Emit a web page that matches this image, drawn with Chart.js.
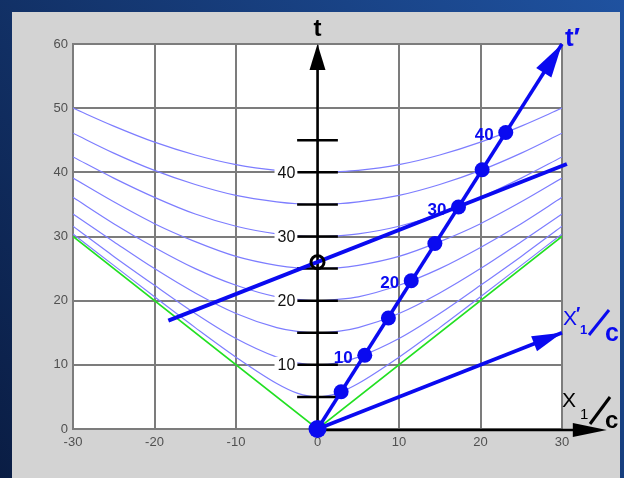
<!DOCTYPE html>
<html>
<head>
<meta charset="utf-8">
<script src="https://cdn.jsdelivr.net/npm/chart.js@4/dist/chart.umd.min.js"></script>
<style>
  html, body { margin:0; padding:0; background:#12316a; }
  #wrap { width:624px; height:478px; }
</style>
</head>
<body>
<div id="wrap"><canvas id="mink" width="624" height="478"></canvas></div>
<script>
const hypX = [0, 2.5, 5, 10, 15, 20, 25, 30];
// t values of each invariant hyperbola at those x (curves are symmetric)
const hyp5  = [5, 5.6, 7.1, 11.2, 15.8, 20.6, 25.5, 30.4];
const hyp10 = [10, 10.3, 11.2, 14.1, 18.0, 22.4, 26.9, 31.6];
const hyp15 = [15, 15.2, 15.8, 18.0, 21.2, 25.0, 29.2, 33.5];
const hyp20 = [20, 20.2, 20.6, 22.4, 25.0, 28.3, 32.0, 36.1];
const hyp25 = [25, 25.1, 25.5, 26.9, 29.2, 32.0, 35.4, 39.1];
const hyp30 = [30, 30.1, 30.4, 31.6, 33.5, 36.1, 39.1, 42.4];
const hyp35 = [35, 35.1, 35.4, 36.4, 38.1, 40.3, 43.0, 46.1];
const hyp40 = [40, 40.1, 40.3, 41.2, 42.7, 44.7, 47.2, 50.0];
const hyperbolas = [hyp5, hyp10, hyp15, hyp20, hyp25, hyp30, hyp35, hyp40];

// light cone t = |x|
const coneX = [-30, 0, 30];
const coneT = [30, 0, 30];

// moving clock world line (t' axis) and its proper-time marks
const markX = [0, 2.9, 5.8, 8.7, 11.5, 14.4, 17.3, 20.2, 23.1];
const markT = [0, 5.8, 11.5, 17.3, 23.1, 28.9, 34.6, 40.4, 46.2];
const markLabels = ['', '', '10', '', '20', '', '30', '', '40'];
const tPrimeX = [0, 30];
const tPrimeT = [0, 60];

// x' axis
const xPrimeX = [0, 30];
const xPrimeT = [0, 15];

// line of simultaneity through the t'=30 mark, and where it meets t axis
const simX = [-18.3, 30.6];
const simT = [16.9, 41.3];
const simCross = { x: 0, y: 26 };

// t-axis tick marks and labels
const tTicks = [5, 10, 15, 20, 25, 30, 35, 40, 45];
const tTickLabels = [10, 20, 30, 40];
const xAxisEnd = 35.5; // black x axis arrow runs past the frame

const BLUE = '#0a0af0';
const FONT = '"Liberation Sans", Arial, sans-serif';
const pts = (xs, ys) => xs.map((x, i) => ({ x, y: ys[i] }));

function hypPoints(vals){
  const left = hypX.slice().reverse().map((x, i) => ({ x: -x, y: vals[vals.length - 1 - i] }));
  const right = hypX.slice(1).map((x, i) => ({ x, y: vals[i + 1] }));
  return left.concat(right);
}

function arrow(ctx, x1, y1, x2, y2, len, half, color){
  const a = Math.atan2(y2 - y1, x2 - x1);
  ctx.save();
  ctx.fillStyle = color;
  ctx.beginPath();
  ctx.moveTo(x2, y2);
  ctx.lineTo(x2 - len*Math.cos(a) + half*Math.sin(a), y2 - len*Math.sin(a) - half*Math.cos(a));
  ctx.lineTo(x2 - len*Math.cos(a) - half*Math.sin(a), y2 - len*Math.sin(a) + half*Math.cos(a));
  ctx.closePath();
  ctx.fill();
  ctx.restore();
}

function slash(ctx, x1, y1, x2, y2, color, w){
  ctx.strokeStyle = color;
  ctx.lineWidth = w;
  ctx.lineCap = 'butt';
  ctx.beginPath();
  ctx.moveTo(x1, y1); ctx.lineTo(x2, y2);
  ctx.stroke();
}

const frame = {
  id: 'frame',
  beforeDraw(chart){
    const ctx = chart.ctx, w = chart.width, h = chart.height;
    const g = ctx.createLinearGradient(0, h, w, 0);
    g.addColorStop(0, '#0a1d44');
    g.addColorStop(1, '#1f52a0');
    ctx.save();
    ctx.fillStyle = g;
    ctx.fillRect(0, 0, w, h);
    ctx.fillStyle = '#d3d3d3';
    ctx.fillRect(12, 12, 608, h - 12);
    const a = chart.chartArea;
    ctx.fillStyle = '#ffffff';
    ctx.fillRect(a.left, a.top, a.right - a.left, a.bottom - a.top);
    ctx.restore();
  },
  // black t axis, ticks and labels go above the hyperbolas but under the blue marks
  afterDatasetDraw(chart, args){
    if (!args.meta._dataset.underlay) return;
    const ctx = chart.ctx, xs = chart.scales.x, ys = chart.scales.y;
    const x0 = xs.getPixelForValue(0), y0 = ys.getPixelForValue(0);
    ctx.save();
    ctx.strokeStyle = '#000';
    ctx.lineWidth = 2.5;
    ctx.beginPath();
    ctx.moveTo(x0, y0); ctx.lineTo(x0, ys.getPixelForValue(57));
    ctx.stroke();
    arrow(ctx, x0, y0, x0, ys.getPixelForValue(60), 26, 8, '#000');
    tTicks.forEach(t => {
      const y = ys.getPixelForValue(t);
      ctx.beginPath();
      ctx.moveTo(xs.getPixelForValue(-2.5), y);
      ctx.lineTo(xs.getPixelForValue(2.5), y);
      ctx.stroke();
    });
    ctx.font = '16px ' + FONT;
    ctx.textAlign = 'right';
    ctx.textBaseline = 'middle';
    tTickLabels.forEach(t => {
      const y = ys.getPixelForValue(t);
      const xr = xs.getPixelForValue(-2.6);
      const tw = ctx.measureText(String(t)).width;
      ctx.fillStyle = '#fff';
      ctx.fillRect(xr - tw - 4, y - 8, tw + 5, 16);
      ctx.fillStyle = '#111';
      ctx.fillText(String(t), xr - 1, y + 1);
    });
    // x axis arrow
    ctx.beginPath();
    ctx.moveTo(x0, y0 + 1); ctx.lineTo(xs.getPixelForValue(xAxisEnd - 3), y0 + 1);
    ctx.stroke();
    arrow(ctx, x0, y0 + 1, xs.getPixelForValue(xAxisEnd), y0 + 1, 34, 7, '#000');
    ctx.restore();
  },
  afterDraw(chart){
    const ctx = chart.ctx, xs = chart.scales.x, ys = chart.scales.y;
    const px = v => xs.getPixelForValue(v), py = v => ys.getPixelForValue(v);
    ctx.save();
    // arrowheads on the primed axes
    arrow(ctx, px(tPrimeX[0]), py(tPrimeT[0]), px(tPrimeX[1]), py(tPrimeT[1]), 34, 9, BLUE);
    arrow(ctx, px(xPrimeX[0]), py(xPrimeT[0]), px(xPrimeX[1]), py(xPrimeT[1]), 30, 8, BLUE);
    // hollow crossing mark
    ctx.strokeStyle = '#000';
    ctx.lineWidth = 3;
    ctx.beginPath();
    ctx.arc(px(simCross.x), py(simCross.y), 6.5, 0, Math.PI*2);
    ctx.stroke();
    // proper-time labels
    ctx.font = 'bold 17px ' + FONT;
    ctx.fillStyle = BLUE;
    ctx.textAlign = 'right';
    ctx.textBaseline = 'middle';
    markLabels.forEach((s, i) => {
      if (s) ctx.fillText(s, px(markX[i]) - 12, py(markT[i]) + 3);
    });
    // axis names
    ctx.textAlign = 'center';
    ctx.textBaseline = 'alphabetic';
    ctx.fillStyle = '#000';
    ctx.font = 'bold 24px ' + FONT;
    ctx.fillText('t', px(0), 36);
    ctx.fillStyle = BLUE;
    ctx.font = 'bold 26px ' + FONT;
    ctx.textAlign = 'left';
    ctx.fillText('t\u2032', 565, 46);
    // X'1/c
    ctx.font = '21px ' + FONT;
    ctx.fillText('X', 563, 325);
    ctx.font = 'bold 18px ' + FONT;
    ctx.fillText('\u2032', 576, 320);
    ctx.font = 'bold 13px ' + FONT;
    ctx.fillText('1', 580, 334);
    slash(ctx, 589, 335, 609, 310, BLUE, 3);
    ctx.font = 'bold 25px ' + FONT;
    ctx.fillText('c', 605, 341);
    // X1/c
    ctx.fillStyle = '#000';
    ctx.font = '21px ' + FONT;
    ctx.fillText('X', 562, 407);
    ctx.font = '15px ' + FONT;
    ctx.fillText('1', 580, 419);
    slash(ctx, 590, 424, 610, 397, '#000', 3);
    ctx.font = 'bold 24px ' + FONT;
    ctx.fillText('c', 605, 428);
    ctx.restore();
  }
};

const datasets = [];
hyperbolas.forEach((h, i) => datasets.push({
  label: 'hyp' + (i + 1) * 5, data: hypPoints(h), showLine: true,
  borderColor: '#7d7dff', borderWidth: 1.2, pointRadius: 0,
  tension: 0.4, cubicInterpolationMode: 'monotone', order: 10
}));
datasets.push({ label: 'cone', data: pts(coneX, coneT), showLine: true, underlay: true,
  borderColor: '#22e022', borderWidth: 1.6, pointRadius: 0, order: 9 });
datasets.push({ label: 'sim', data: pts(simX, simT), showLine: true, clip: false,
  borderColor: BLUE, borderWidth: 4, pointRadius: 0, order: 3 });
datasets.push({ label: 'xprime', data: pts(xPrimeX, xPrimeT), showLine: true, clip: false,
  borderColor: BLUE, borderWidth: 3.5, pointRadius: 0, order: 3 });
datasets.push({ label: 'tprime', data: pts(tPrimeX, tPrimeT), showLine: true, clip: false,
  borderColor: BLUE, borderWidth: 3.5, pointRadius: 0, order: 3 });
datasets.push({ label: 'marks', data: pts(markX, markT), showLine: false, clip: false,
  backgroundColor: BLUE, borderColor: BLUE, borderWidth: 0,
  pointRadius: markX.map((x, i) => i === 0 ? 9 : 7.5), order: 1 });

const tickFont = { family: '"Liberation Sans Narrow", "Liberation Sans", Arial, sans-serif', size: 13 };

new Chart(document.getElementById('mink'), {
  type: 'scatter',
  data: { datasets },
  options: {
    responsive: false,
    animation: false,
    events: [],
    layout: { padding: { left: 0, right: 62, top: 44, bottom: 0 } },
    plugins: { legend: { display: false }, tooltip: { enabled: false } },
    scales: {
      x: {
        type: 'linear', min: -30, max: 30,
        afterFit: s => { s.height = 49; },
        ticks: { stepSize: 10, color: '#505050', padding: 6, font: tickFont },
        grid: { color: '#7c7c7c', lineWidth: 2, drawTicks: false },
        border: { color: '#7c7c7c', width: 2 }
      },
      y: {
        type: 'linear', min: 0, max: 60,
        afterFit: s => { s.width = 73; },
        ticks: { stepSize: 10, color: '#505050', padding: 5, font: tickFont },
        grid: { color: '#7c7c7c', lineWidth: 2, drawTicks: false },
        border: { color: '#7c7c7c', width: 2 }
      }
    }
  },
  plugins: [frame]
});
</script>
</body>
</html>
